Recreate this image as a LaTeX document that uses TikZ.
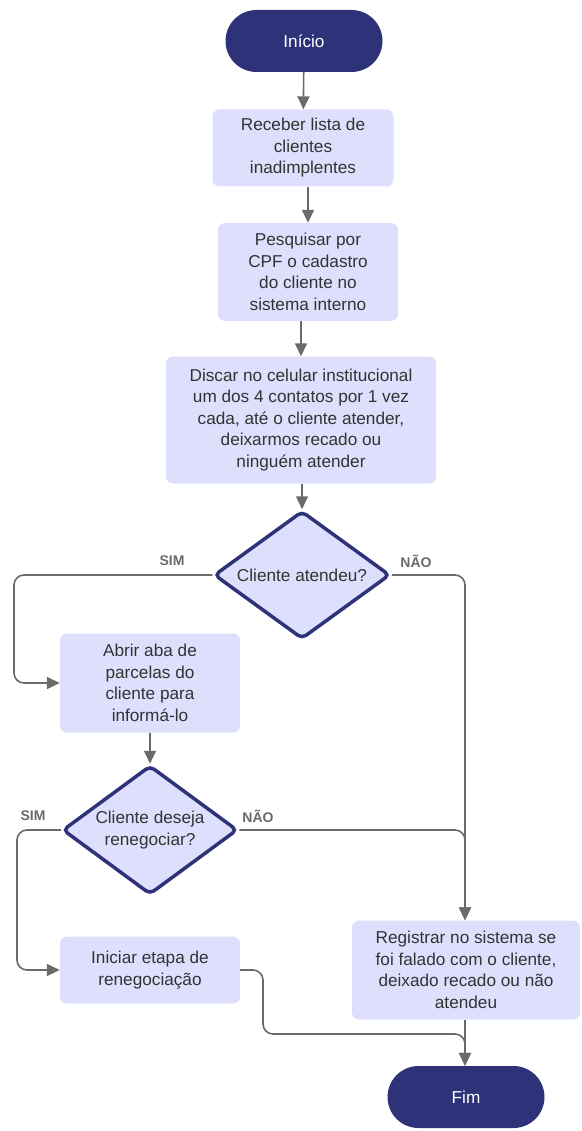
\documentclass[tikz,border=0pt]{standalone}
\usepackage{fontspec}
\setmainfont{Liberation Sans}
\usetikzlibrary{arrows.meta,shapes.geometric}
\definecolor{navy}{HTML}{2E3379}
\definecolor{lav}{HTML}{DEDFFC}
\definecolor{txt}{HTML}{333333}
\definecolor{wire}{HTML}{6A6A6A}

\begin{document}
\begin{tikzpicture}[x=1pt,y=-1pt,
  proc/.style={fill=lav, rounded corners=7pt, align=center, text=txt,
    font=\fontsize{17.2}{21.5}\selectfont, inner sep=0pt},
  term/.style={fill=navy, rounded corners=31pt, text=white,
    minimum width=157pt, minimum height=62pt, font=\fontsize{17.2}{21.5}\selectfont},
  decision/.style={diamond, aspect=1.37, draw=navy, line width=3.5pt, fill=lav, rounded corners=5pt,
    align=center, text=txt, inner sep=0pt, font=\fontsize{17.2}{21.5}\selectfont},
  flow/.style={draw=wire, line width=1.6pt, rounded corners=10pt,
    -{Triangle[length=13pt,width=12pt]}},
  lbl/.style={text=wire, font=\fontsize{14}{16}\selectfont\bfseries}]
  \useasboundingbox (0,0) rectangle (581,1131);

  \node (ini)  [term] at (304,41) {Início};
  \node (rec)  [proc, minimum width=181pt, minimum height=77pt] at (303,148) {Receber lista de\\clientes\\inadimplentes};
  \node (pesq) [proc, minimum width=180pt, minimum height=98pt] at (308,272) {Pesquisar por\\CPF o cadastro\\do cliente no\\sistema interno};
  \node (disc) [proc, minimum width=270pt, minimum height=127pt] at (301,420) {Discar no celular institucional\\um dos 4 contatos por 1 vez\\cada, até o cliente atender,\\deixarmos recado ou\\ninguém atender};
  \node (atend) [decision, minimum width=176pt, minimum height=128pt] at (302,575) {Cliente atendeu?};
  \node (abrir) [proc, minimum width=180pt, minimum height=99pt] at (150,683) {Abrir aba de\\parcelas do\\cliente para\\informá-lo};
  \node (reneg) [decision, minimum width=175pt, minimum height=129pt] at (150,830) {Cliente deseja\\renegociar?};
  \node (inic) [proc, minimum width=180pt, minimum height=67pt] at (150,970) {Iniciar etapa de\\renegociação};
  \node (reg)  [proc, minimum width=228pt, minimum height=99pt] at (466,970) {Registrar no sistema se\\foi falado com o cliente,\\deixado recado ou não\\atendeu};
  \node (fim)  [term] at (466,1097) {Fim};

  \coordinate (simA) at (14,575);
  \coordinate (simB) at (17,830);
  \coordinate (volta) at (263,1034);

  \draw[flow] (ini) -- (rec);
  \draw[flow] (rec.south -| 308,0) -- (pesq);
  \draw[flow] (pesq.south -| 301,0) -- (disc);
  \draw[flow] (disc.south -| atend.north) -- (atend);
  \draw[flow] (atend.west) -- (simA) |- (abrir.west);
  \draw[flow] (atend.east) -| (reg.north -| 465,0);
  \draw[flow] (abrir) -- (reneg);
  \draw[flow] (reneg.west) -- (simB) |- (inic.west);
  \draw[flow] (reneg.east) -| (reg.north -| 465,0);
  \draw[flow] (inic.east) -| (volta) -| (fim.north -| 465,0);
  \draw[flow] (reg.south -| 465,0) -- (fim.north -| 465,0);

  \node (lsim1) [lbl] at (172,561) {SIM};
  \node (lnao1) [lbl] at (416,561) {NÃO};
  \node (lsim2) [lbl] at (33,816) {SIM};
  \node (lnao2) [lbl] at (258,816) {NÃO};
\end{tikzpicture}
\end{document}
